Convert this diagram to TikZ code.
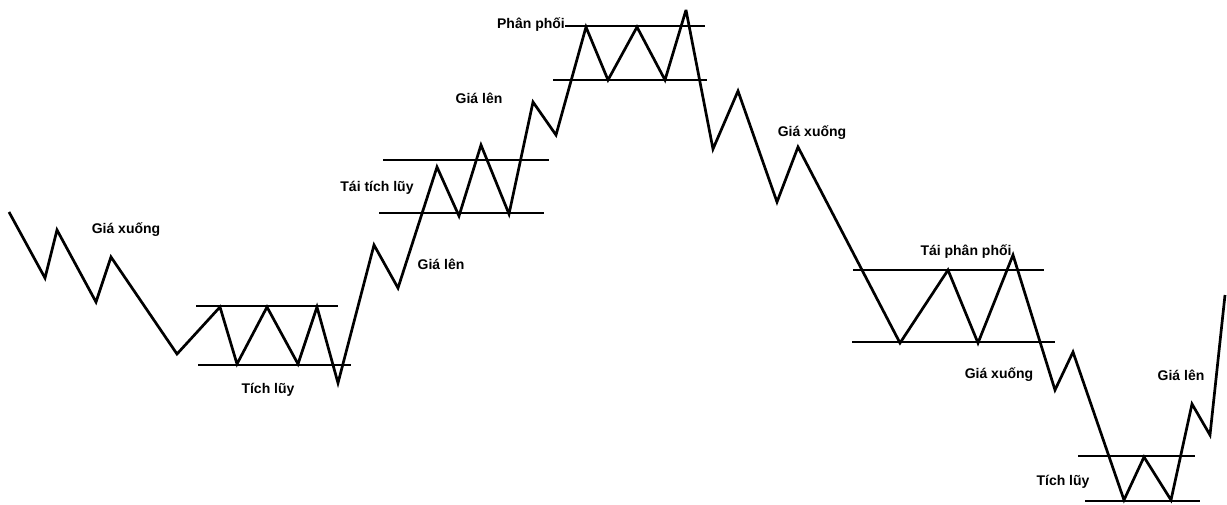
\documentclass[tikz,border=0pt]{standalone}
\usepackage{fontspec}
\setmainfont{Liberation Sans}
\begin{document}
\begin{tikzpicture}[x=1pt,y=-1pt,
  price/.style={line width=2.7pt, line join=miter, miter limit=4},
  level/.style={line width=2.4pt},
  lbl/.style={font=\bfseries\fontsize{14}{16}\selectfont, inner sep=0pt}]
\fill[white] (0,0) rectangle (1227,504);
\useasboundingbox (0,0) rectangle (1227,504);
% trading ranges
\draw[level] (196,306) -- (338,306);
\draw[level] (198,365) -- (351,365);
\draw[level] (383,160) -- (549,160);
\draw[level] (379,213) -- (544,213);
\draw[level] (565,26) -- (705,26);
\draw[level] (553,80) -- (707,80);
\draw[level] (853,270) -- (1044,270);
\draw[level] (852,342) -- (1055,342);
\draw[level] (1078,456) -- (1195,456);
\draw[level] (1085,501) -- (1200,501);
% price path
\draw[price] (9,212) -- (45,278) -- (57,230) -- (96,302) -- (111,257) -- (177,354)
  -- (220,307) -- (237,364) -- (267,307) -- (298,364) -- (317,307) -- (338,383)
  -- (374,245) -- (398,288) -- (437,167) -- (459,216) -- (481,145) -- (509,214)
  -- (533,102) -- (556,135) -- (586,27) -- (608,80) -- (637,27) -- (665,80)
  -- (686,10) -- (713,149) -- (738,91) -- (777,202) -- (798,147) -- (900,343)
  -- (948,270) -- (978,343) -- (1013,255) -- (1055,390) -- (1073,352) -- (1124,500)
  -- (1144,457) -- (1171,500) -- (1192,404) -- (1210,435) -- (1225,295);
% labels
\node[lbl] (l1) at (126,230) {Giá xuống};
\node[lbl] (l2) at (268,390) {Tích lũy};
\node[lbl] (l3) at (377,188) {Tái tích lũy};
\node[lbl] (l4) at (441,264) {Giá lên};
\node[lbl] (l5) at (479,98) {Giá lên};
\node[lbl, anchor=east] (l6) at (565,25) {Phân phối};
\node[lbl] (l7) at (812,133) {Giá xuống};
\node[lbl] (l8) at (966,252) {Tái phân phối};
\node[lbl] (l9) at (999,375) {Giá xuống};
\node[lbl] (l10) at (1181,375) {Giá lên};
\node[lbl] (l11) at (1063,482) {Tích lũy};
\end{tikzpicture}
\end{document}
